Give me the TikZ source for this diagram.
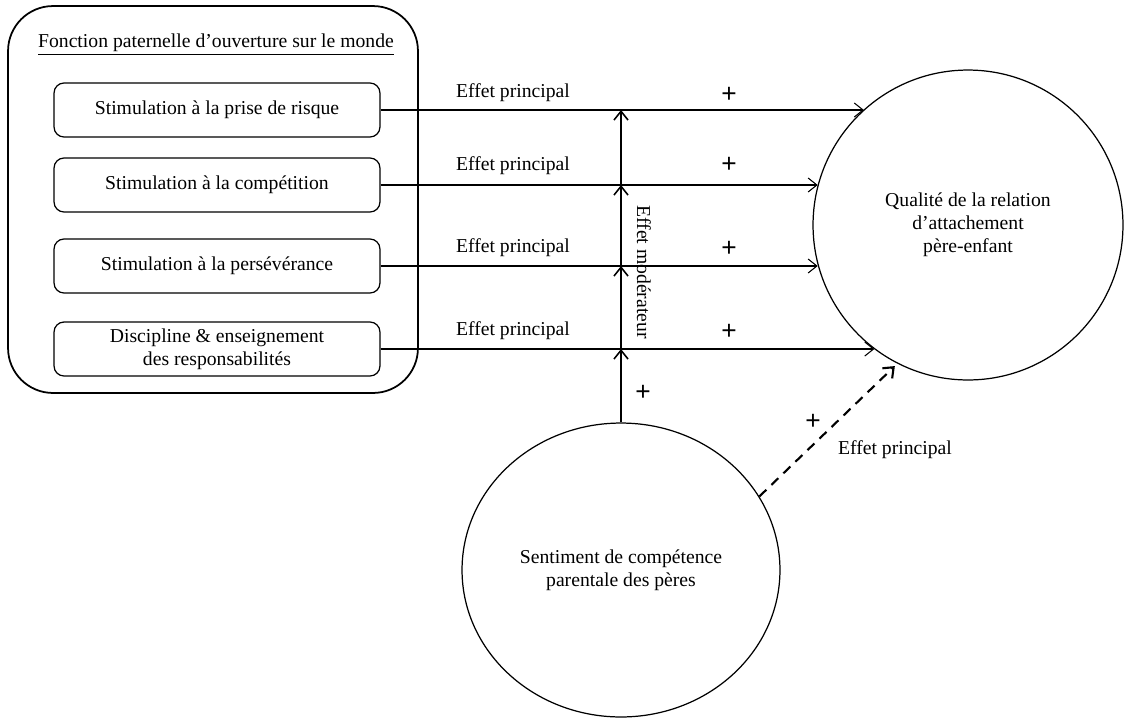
\documentclass[tikz,border=0pt]{standalone}
\usepackage{fontspec}
\setmainfont{Liberation Serif}
\newfontfamily\signefont{Liberation Sans}
\usetikzlibrary{shapes.geometric,arrows.meta}

\begin{document}
\begin{tikzpicture}[x=0.02cm,y=-0.02cm,
  font=\fontsize{11.2}{13}\selectfont,
  boite/.style={draw,line width=0.7pt,rounded corners=0.2cm,minimum width=6.52cm,minimum height=1.08cm,align=center,inner sep=2pt},
  fleche/.style={line width=0.6pt,-{Straight Barb[length=5pt,width=8pt]}},
  etiq/.style={inner sep=1pt},
  signe/.style={inner sep=1pt,font=\signefont\fontsize{15}{15}\selectfont}]
\useasboundingbox (0,0) rectangle (1125,721);

% Define nodes
\node[draw,line width=1pt,rounded corners=0.9cm,minimum width=8.2cm,minimum height=7.74cm] (fonction) at (213,199.5) {};
\node (titre) at (216,45) {\underline{Fonction paternelle d'ouverture sur le monde}};
\node[boite] (risque) at (217,110) {Stimulation à la prise de risque};
\node[boite] (competition) at (217,185) {Stimulation à la compétition};
\node[boite] (perseverance) at (217,266) {Stimulation à la persévérance};
\node[boite] (discipline) at (217,349) {Discipline \& enseignement\\des responsabilités};
\node[draw,circle,line width=0.7pt,minimum size=6.2cm,align=center] (qualite) at (968,225) {Qualité de la relation\\d'attachement\\père-enfant};
\node[draw,ellipse,line width=0.7pt,minimum width=6.36cm,minimum height=5.88cm,align=center] (sentiment) at (621,570) {Sentiment de compétence\\parentale des pères};

% Crossing points on the moderator line
\coordinate (m1) at (risque.east -| sentiment.north);
\coordinate (m2) at (competition.east -| sentiment.north);
\coordinate (m3) at (perseverance.east -| sentiment.north);
\coordinate (m4) at (discipline.east -| sentiment.north);

% Draw the main effects
\draw[fleche] (risque.east) -- (risque.east -| qualite.132); % Row 1
\draw[fleche] (competition.east) -- (competition.east -| qualite.165); % Row 2
\draw[fleche] (perseverance.east) -- (perseverance.east -| qualite.195); % Row 3
\draw[fleche] (discipline.east) -- (discipline.east -| qualite.233); % Row 4

% Draw the moderator line
\draw[fleche,line width=0.9pt] (sentiment.north) -- (m4);
\draw[fleche,line width=0.9pt] (m4) -- (m3);
\draw[fleche,line width=0.9pt] (m3) -- (m2);
\draw[fleche,line width=0.9pt] (m2) -- (m1);

% Draw the dashed effect
\draw[fleche,line width=1.2pt,dash pattern=on 5.5pt off 4pt,shorten >=2pt] (sentiment.28) -- (qualite.243);

% Add labels
\node[etiq] (ep1) at (513,93) {Effet principal};
\node[etiq] (ep2) at (513,166) {Effet principal};
\node[etiq] (ep3) at (513,248) {Effet principal};
\node[etiq] (ep4) at (513,331) {Effet principal};
\node[signe] (p1) at (729,95) {+};
\node[signe] (p2) at (729,165) {+};
\node[signe] (p3) at (729,249) {+};
\node[signe] (p4) at (729,332) {+};
\node[signe] (pm) at (643,393) {+};
\node[signe] (pd) at (813,422) {+};
\node[etiq] (epd) at (895,450) {Effet principal};
\node[etiq,rotate=-90] (moderateur) at (644,272) {Effet modérateur};

\end{tikzpicture}
\end{document}
